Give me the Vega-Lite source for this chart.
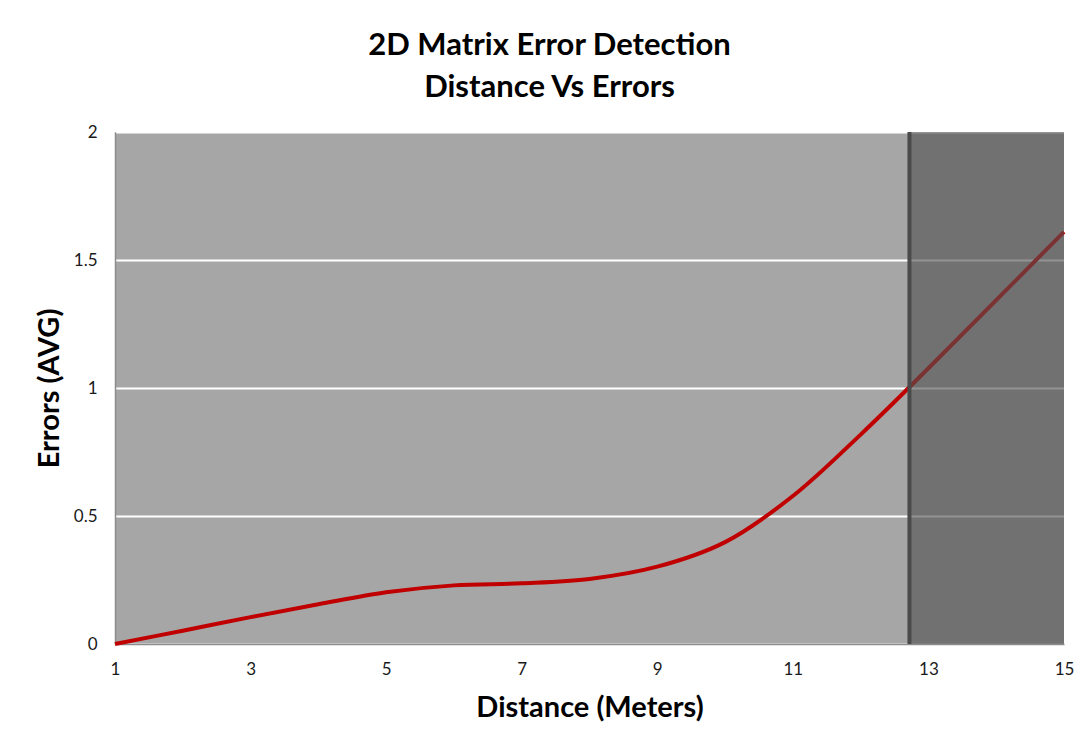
{
  "$schema": "https://vega.github.io/schema/vega-lite/v6.json",
  "width": 949,
  "height": 512,
  "autosize": {"type": "none"},
  "padding": {"left": 115, "top": 132, "right": 26, "bottom": 98},
  "background": "white",
  "config": {
    "view": {"fill": "#a6a6a6", "stroke": null},
    "font": "Lato"
  },
  "title": {
    "text": ["2D Matrix Error Detection", "Distance Vs Errors"],
    "font": "Lato",
    "fontSize": 31,
    "fontWeight": "bold",
    "color": "#000000",
    "lineHeight": 42,
    "anchor": "middle",
    "baseline": "bottom",
    "dx": -40,
    "offset": -12
  },
  "layer": [
    {
      "data": {
        "values": [
          {"Distance": 1, "Errors": 0},
          {"Distance": 2, "Errors": 0.052},
          {"Distance": 3, "Errors": 0.105},
          {"Distance": 4, "Errors": 0.155},
          {"Distance": 5, "Errors": 0.202},
          {"Distance": 6, "Errors": 0.229},
          {"Distance": 7, "Errors": 0.237},
          {"Distance": 8, "Errors": 0.254},
          {"Distance": 9, "Errors": 0.302},
          {"Distance": 10, "Errors": 0.398},
          {"Distance": 11, "Errors": 0.578},
          {"Distance": 12, "Errors": 0.818},
          {"Distance": 13, "Errors": 1.077},
          {"Distance": 14, "Errors": 1.343},
          {"Distance": 15, "Errors": 1.61}
        ]
      },
      "mark": {"type": "line", "color": "#c00000", "strokeWidth": 4, "interpolate": "catmull-rom"},
      "encoding": {
        "x": {
          "field": "Distance",
          "type": "quantitative",
          "scale": {"domain": [1, 15], "nice": false, "zero": false},
          "axis": {
            "title": "Distance (Meters)",
            "values": [1, 3, 5, 7, 9, 11, 13, 15],
            "format": "~g",
            "grid": false,
            "ticks": false,
            "domainColor": "#8c8c8c",
            "domainWidth": 1.5,
            "labelFont": "Lato",
            "labelFontSize": 17,
            "labelColor": "#1a1a1a",
            "labelPadding": 17,
            "labelFlush": false,
            "titleFont": "Lato",
            "titleFontSize": 29,
            "titleFontWeight": "bold",
            "titleColor": "#000000",
            "titleY": 63,
            "titleBaseline": "middle"
          }
        },
        "y": {
          "field": "Errors",
          "type": "quantitative",
          "scale": {"domain": [0, 2], "nice": false},
          "axis": {
            "title": "Errors (AVG)",
            "values": [0, 0.5, 1, 1.5, 2],
            "format": "~g",
            "grid": true,
            "gridColor": "#ffffff",
            "gridWidth": 2,
            "ticks": false,
            "domainColor": "#8c8c8c",
            "domainWidth": 1.5,
            "labelFont": "Lato",
            "labelFontSize": 17,
            "labelColor": "#1a1a1a",
            "labelPadding": 18,
            "labelFlush": false,
            "titleFont": "Lato",
            "titleFontSize": 29,
            "titleFontWeight": "bold",
            "titleColor": "#000000",
            "titleAngle": -90,
            "titleX": -66,
            "titleY": 256,
            "titleAlign": "center",
            "titleBaseline": "middle"
          }
        }
      }
    },
    {
      "data": {"values": [{"Distance": 12.72, "Distance2": 15}]},
      "mark": {"type": "rect", "color": "#505050", "opacity": 0.62},
      "encoding": {
        "x": {"field": "Distance", "type": "quantitative"},
        "x2": {"field": "Distance2"}
      }
    },
    {
      "data": {"values": [{"Distance": 12.72}]},
      "mark": {"type": "rule", "color": "#4a4a4a", "strokeWidth": 4},
      "encoding": {
        "x": {"field": "Distance", "type": "quantitative"}
      }
    }
  ]
}
